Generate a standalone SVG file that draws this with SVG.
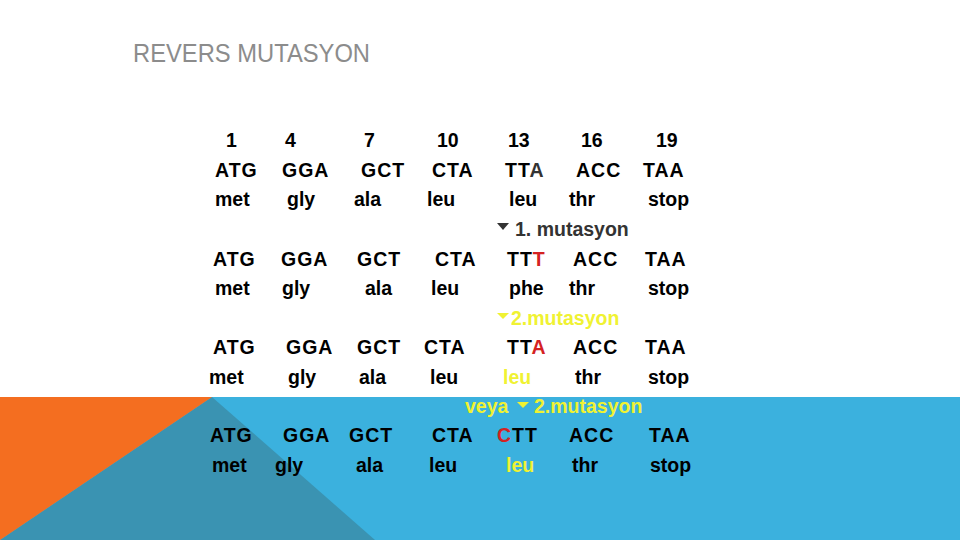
<svg xmlns="http://www.w3.org/2000/svg" width="960" height="540" viewBox="0 0 960 540">
<style>
.t{font-family:"Liberation Sans",Arial,sans-serif;font-weight:bold;font-size:19.5px;fill:#000}
.c{letter-spacing:1px}
.red{fill:#d42222}
.yel{fill:#f0f232}
.gr{fill:#333}
.title{font-family:"Liberation Sans",Arial,sans-serif;font-size:25px;fill:#8c8c8c}
</style>
<rect width="960" height="540" fill="#fff"/>
<g id="band">
<rect x="0" y="397" width="960" height="143" fill="#3bb1de"/>
<polygon points="212,397 375,540 0,540" fill="#3a93b2"/>
<polygon points="0,397 212,397 0,540" fill="#f46e20"/>
</g>
<text class="title" x="133" y="62" textLength="237" lengthAdjust="spacingAndGlyphs">REVERS MUTASYON</text>
<g id="row-numbers" class="t">
<text x="226" y="147">1</text><text x="285" y="147">4</text><text x="364" y="147">7</text><text x="437" y="147">10</text><text x="508" y="147">13</text><text x="581" y="147">16</text><text x="656" y="147">19</text>
</g>
<g id="original" class="t">
<text class="c" x="215" y="177">ATG</text><text class="c" x="282" y="177">GGA</text><text class="c" x="361" y="177">GCT</text><text class="c" x="432" y="177">CTA</text><text class="c" x="505" y="177">TT<tspan class="gr">A</tspan></text><text class="c" x="576" y="177">ACC</text><text class="c" x="643" y="177">TAA</text>
<text x="215" y="206">met</text><text x="287" y="206">gly</text><text x="354" y="206">ala</text><text x="427" y="206">leu</text><text x="509" y="206">leu</text><text x="569" y="206">thr</text><text x="648" y="206">stop</text>
</g>
<g id="mut1-label" class="t">
<polygon points="497,223 509,223 503,230" fill="#333"/>
<text class="gr" x="515" y="236">1. mutasyon</text>
</g>
<g id="mut1" class="t">
<text class="c" x="213" y="266">ATG</text><text class="c" x="281" y="266">GGA</text><text class="c" x="357" y="266">GCT</text><text class="c" x="435" y="266">CTA</text><text class="c" x="507" y="266">TT<tspan class="red">T</tspan></text><text class="c" x="573" y="266">ACC</text><text class="c" x="645" y="266">TAA</text>
<text x="215" y="295">met</text><text x="282" y="295">gly</text><text x="365" y="295">ala</text><text x="431" y="295">leu</text><text x="509" y="295">phe</text><text x="569" y="295">thr</text><text x="648" y="295">stop</text>
</g>
<g id="mut2-label" class="t">
<polygon points="497,313 509,313 503,319" fill="#f0f232"/>
<text class="yel" x="511" y="325">2.mutasyon</text>
</g>
<g id="mut2" class="t">
<text class="c" x="213" y="354">ATG</text><text class="c" x="286" y="354">GGA</text><text class="c" x="357" y="354">GCT</text><text class="c" x="424" y="354">CTA</text><text class="c" x="507" y="354">TT<tspan class="red">A</tspan></text><text class="c" x="573" y="354">ACC</text><text class="c" x="645" y="354">TAA</text>
<text x="209" y="384">met</text><text x="288" y="384">gly</text><text x="359" y="384">ala</text><text x="430" y="384">leu</text><text class="yel" x="503" y="384">leu</text><text x="575" y="384">thr</text><text x="648" y="384">stop</text>
</g>
<g id="mut2b-label" class="t">
<text class="yel" x="465" y="413">veya</text>
<polygon points="517,402 529,402 523,408" fill="#f0f232"/>
<text class="yel" x="534" y="413">2.mutasyon</text>
</g>
<g id="mut2b" class="t">
<text class="c" x="210" y="442">ATG</text><text class="c" x="283" y="442">GGA</text><text class="c" x="349" y="442">GCT</text><text class="c" x="432" y="442">CTA</text><text class="c" x="497" y="442"><tspan class="red">C</tspan>TT</text><text class="c" x="569" y="442">ACC</text><text class="c" x="649" y="442">TAA</text>
<text x="212" y="472">met</text><text x="275" y="472">gly</text><text x="356" y="472">ala</text><text x="429" y="472">leu</text><text class="yel" x="506" y="472">leu</text><text x="572" y="472">thr</text><text x="650" y="472">stop</text>
</g>
</svg>
